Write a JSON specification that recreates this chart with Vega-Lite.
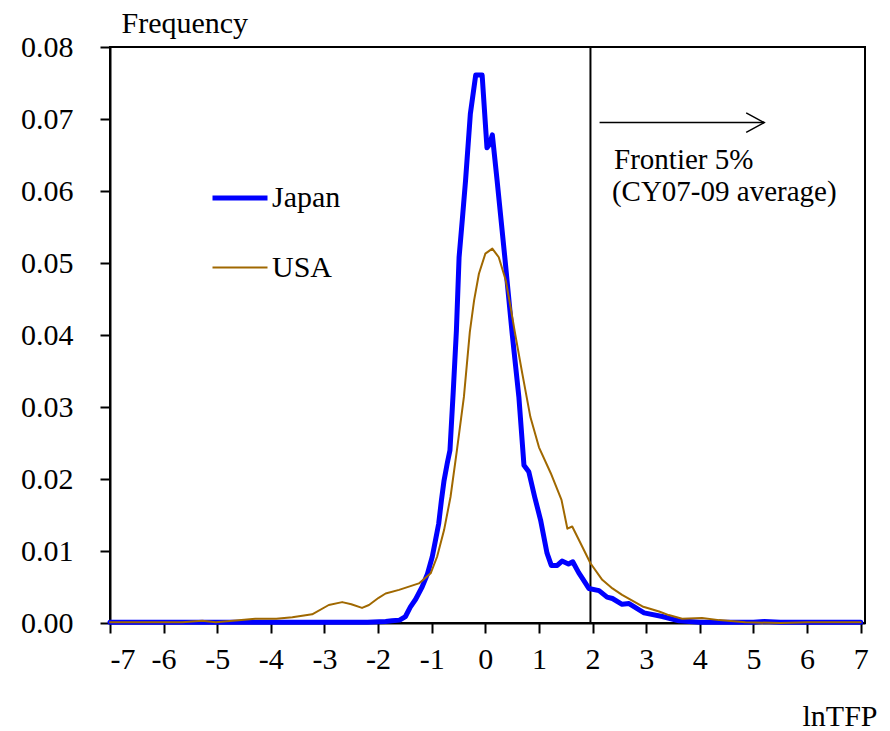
{
  "$schema": "https://vega.github.io/schema/vega-lite/v6.json",
  "width": 755,
  "height": 576,
  "autosize": "none",
  "padding": {"left": 110, "top": 47, "right": 25, "bottom": 108},
  "background": "white",
  "config": {
    "font": "Liberation Serif",
    "view": {"stroke": "black", "strokeWidth": 2},
    "text": {"font": "Liberation Serif"},
    "legend": {"labelFont": "Liberation Serif", "titleFont": "Liberation Serif"},
    "axis": {
      "grid": false,
      "domainColor": "black",
      "domainWidth": 2,
      "tickColor": "black",
      "tickWidth": 2,
      "tickSize": 10,
      "labelFont": "Liberation Serif",
      "labelFontSize": 30,
      "labelColor": "black",
      "titleFont": "Liberation Serif",
      "titleFontSize": 30,
      "titleFontWeight": "normal",
      "titleColor": "black"
    }
  },
  "datasets": {
    "curves": [
      {"series": "Japan", "lnTFP": -7, "freq": 0.0001},
      {"series": "Japan", "lnTFP": -6, "freq": 0.0001},
      {"series": "Japan", "lnTFP": -5, "freq": 0.0001},
      {"series": "Japan", "lnTFP": -4, "freq": 0.0001},
      {"series": "Japan", "lnTFP": -3, "freq": 0.0001},
      {"series": "Japan", "lnTFP": -2.2, "freq": 0.0001},
      {"series": "Japan", "lnTFP": -1.86, "freq": 0.0002},
      {"series": "Japan", "lnTFP": -1.74, "freq": 0.0003},
      {"series": "Japan", "lnTFP": -1.6, "freq": 0.0004},
      {"series": "Japan", "lnTFP": -1.49, "freq": 0.0009},
      {"series": "Japan", "lnTFP": -1.4, "freq": 0.0022},
      {"series": "Japan", "lnTFP": -1.3, "freq": 0.0033},
      {"series": "Japan", "lnTFP": -1.18, "freq": 0.005},
      {"series": "Japan", "lnTFP": -1.08, "freq": 0.0068},
      {"series": "Japan", "lnTFP": -0.99, "freq": 0.0092},
      {"series": "Japan", "lnTFP": -0.93, "freq": 0.0115},
      {"series": "Japan", "lnTFP": -0.87, "freq": 0.0138},
      {"series": "Japan", "lnTFP": -0.82, "freq": 0.017},
      {"series": "Japan", "lnTFP": -0.77, "freq": 0.0198},
      {"series": "Japan", "lnTFP": -0.71, "freq": 0.0222},
      {"series": "Japan", "lnTFP": -0.66, "freq": 0.024},
      {"series": "Japan", "lnTFP": -0.6, "freq": 0.032},
      {"series": "Japan", "lnTFP": -0.54, "freq": 0.0406},
      {"series": "Japan", "lnTFP": -0.49, "freq": 0.0508},
      {"series": "Japan", "lnTFP": -0.43, "freq": 0.056},
      {"series": "Japan", "lnTFP": -0.37, "freq": 0.0614},
      {"series": "Japan", "lnTFP": -0.28, "freq": 0.0707},
      {"series": "Japan", "lnTFP": -0.18, "freq": 0.0761},
      {"series": "Japan", "lnTFP": -0.06, "freq": 0.0761},
      {"series": "Japan", "lnTFP": 0.03, "freq": 0.066},
      {"series": "Japan", "lnTFP": 0.08, "freq": 0.0665},
      {"series": "Japan", "lnTFP": 0.13, "freq": 0.0678},
      {"series": "Japan", "lnTFP": 0.22, "freq": 0.0614},
      {"series": "Japan", "lnTFP": 0.36, "freq": 0.051},
      {"series": "Japan", "lnTFP": 0.5, "freq": 0.0402},
      {"series": "Japan", "lnTFP": 0.625, "freq": 0.0314},
      {"series": "Japan", "lnTFP": 0.72, "freq": 0.0219},
      {"series": "Japan", "lnTFP": 0.81, "freq": 0.021},
      {"series": "Japan", "lnTFP": 0.92, "freq": 0.0175},
      {"series": "Japan", "lnTFP": 1.03, "freq": 0.0143},
      {"series": "Japan", "lnTFP": 1.15, "freq": 0.0097},
      {"series": "Japan", "lnTFP": 1.23, "freq": 0.008},
      {"series": "Japan", "lnTFP": 1.34, "freq": 0.008},
      {"series": "Japan", "lnTFP": 1.43, "freq": 0.0086},
      {"series": "Japan", "lnTFP": 1.55, "freq": 0.0082},
      {"series": "Japan", "lnTFP": 1.63, "freq": 0.0085},
      {"series": "Japan", "lnTFP": 1.74, "freq": 0.007},
      {"series": "Japan", "lnTFP": 1.81, "freq": 0.0062},
      {"series": "Japan", "lnTFP": 1.93, "freq": 0.0048},
      {"series": "Japan", "lnTFP": 2.12, "freq": 0.0045},
      {"series": "Japan", "lnTFP": 2.27, "freq": 0.0036},
      {"series": "Japan", "lnTFP": 2.37, "freq": 0.0034},
      {"series": "Japan", "lnTFP": 2.55, "freq": 0.0026},
      {"series": "Japan", "lnTFP": 2.68, "freq": 0.0027},
      {"series": "Japan", "lnTFP": 2.96, "freq": 0.0014},
      {"series": "Japan", "lnTFP": 3.3, "freq": 0.0009},
      {"series": "Japan", "lnTFP": 3.61, "freq": 0.0003},
      {"series": "Japan", "lnTFP": 4.0, "freq": 0.0001},
      {"series": "Japan", "lnTFP": 4.5, "freq": 0.0001},
      {"series": "Japan", "lnTFP": 5.0, "freq": 0.0001},
      {"series": "Japan", "lnTFP": 5.2, "freq": 0.0002},
      {"series": "Japan", "lnTFP": 5.5, "freq": 0.0001},
      {"series": "Japan", "lnTFP": 6.0, "freq": 0.0001},
      {"series": "Japan", "lnTFP": 7.0, "freq": 0.0001},
      {"series": "USA", "lnTFP": -7, "freq": 0.0001},
      {"series": "USA", "lnTFP": -6.5, "freq": 0.0001},
      {"series": "USA", "lnTFP": -6, "freq": 0.0001},
      {"series": "USA", "lnTFP": -5.65, "freq": 0.0001},
      {"series": "USA", "lnTFP": -5.28, "freq": 0.0003},
      {"series": "USA", "lnTFP": -5.03, "freq": 0.0001},
      {"series": "USA", "lnTFP": -4.55, "freq": 0.0004},
      {"series": "USA", "lnTFP": -4.29, "freq": 0.0006},
      {"series": "USA", "lnTFP": -3.9, "freq": 0.0006},
      {"series": "USA", "lnTFP": -3.6, "freq": 0.0008},
      {"series": "USA", "lnTFP": -3.23, "freq": 0.0012},
      {"series": "USA", "lnTFP": -2.92, "freq": 0.0025},
      {"series": "USA", "lnTFP": -2.67, "freq": 0.0029},
      {"series": "USA", "lnTFP": -2.5, "freq": 0.0026},
      {"series": "USA", "lnTFP": -2.3, "freq": 0.0021},
      {"series": "USA", "lnTFP": -2.17, "freq": 0.0025},
      {"series": "USA", "lnTFP": -1.99, "freq": 0.0035},
      {"series": "USA", "lnTFP": -1.86, "freq": 0.0041},
      {"series": "USA", "lnTFP": -1.61, "freq": 0.0046},
      {"series": "USA", "lnTFP": -1.24, "freq": 0.0055},
      {"series": "USA", "lnTFP": -1.02, "freq": 0.0069},
      {"series": "USA", "lnTFP": -0.9, "freq": 0.0092},
      {"series": "USA", "lnTFP": -0.77, "freq": 0.0129},
      {"series": "USA", "lnTFP": -0.65, "freq": 0.0175},
      {"series": "USA", "lnTFP": -0.53, "freq": 0.024},
      {"series": "USA", "lnTFP": -0.4, "freq": 0.0314},
      {"series": "USA", "lnTFP": -0.29, "freq": 0.0404},
      {"series": "USA", "lnTFP": -0.21, "freq": 0.0448},
      {"series": "USA", "lnTFP": -0.12, "freq": 0.0485},
      {"series": "USA", "lnTFP": 0.0, "freq": 0.0513},
      {"series": "USA", "lnTFP": 0.13, "freq": 0.052},
      {"series": "USA", "lnTFP": 0.25, "freq": 0.0508},
      {"series": "USA", "lnTFP": 0.38, "freq": 0.0476},
      {"series": "USA", "lnTFP": 0.47, "freq": 0.0439},
      {"series": "USA", "lnTFP": 0.55, "freq": 0.0404},
      {"series": "USA", "lnTFP": 0.69, "freq": 0.0346},
      {"series": "USA", "lnTFP": 0.84, "freq": 0.0286},
      {"series": "USA", "lnTFP": 1.0, "freq": 0.0244},
      {"series": "USA", "lnTFP": 1.22, "freq": 0.0208},
      {"series": "USA", "lnTFP": 1.42, "freq": 0.0171},
      {"series": "USA", "lnTFP": 1.53, "freq": 0.0131},
      {"series": "USA", "lnTFP": 1.62, "freq": 0.0134},
      {"series": "USA", "lnTFP": 1.78, "freq": 0.011},
      {"series": "USA", "lnTFP": 1.96, "freq": 0.0083},
      {"series": "USA", "lnTFP": 2.18, "freq": 0.006},
      {"series": "USA", "lnTFP": 2.37, "freq": 0.0048},
      {"series": "USA", "lnTFP": 2.55, "freq": 0.0039},
      {"series": "USA", "lnTFP": 2.93, "freq": 0.0023},
      {"series": "USA", "lnTFP": 3.24, "freq": 0.0016},
      {"series": "USA", "lnTFP": 3.42, "freq": 0.0011},
      {"series": "USA", "lnTFP": 3.67, "freq": 0.0006},
      {"series": "USA", "lnTFP": 4.04, "freq": 0.0007},
      {"series": "USA", "lnTFP": 4.36, "freq": 0.0004},
      {"series": "USA", "lnTFP": 4.85, "freq": 0.0001},
      {"series": "USA", "lnTFP": 5.5, "freq": 0.0},
      {"series": "USA", "lnTFP": 6.0, "freq": 0.0001},
      {"series": "USA", "lnTFP": 7.0, "freq": 0.0001}
    ],
    "frontier": [{"x": 1.96}],
    "arrow": [{"x": 2.13, "x2": 5.2, "y": 0.0695}],
    "notes": [
      {"x": 2.4, "y": 0.0643, "text": "Frontier 5%"},
      {"x": 2.36, "y": 0.0598, "text": "(CY07-09 average)"}
    ]
  },
  "layer": [
    {
      "data": {"name": "frontier"},
      "mark": {"type": "rule", "color": "black", "strokeWidth": 2},
      "encoding": {
        "x": {"field": "x", "type": "quantitative", "scale": {"domain": [-7, 7.08], "nice": false, "zero": false}}
      }
    },
    {
      "data": {"name": "curves"},
      "mark": {"type": "line", "strokeJoin": "round", "strokeCap": "round"},
      "encoding": {
        "x": {
          "field": "lnTFP", "type": "quantitative",
          "scale": {"domain": [-7, 7.08], "nice": false, "zero": false},
          "axis": {
            "values": [-7, -6, -5, -4, -3, -2, -1, 0, 1, 2, 3, 4, 5, 6, 7],
            "labelExpr": "'' + datum.value",
            "labelPadding": 11,
            "title": "lnTFP",
            "titleAlign": "right",
            "titleBaseline": "alphabetic",
            "titleX": 767,
            "titleY": 102
          }
        },
        "y": {
          "field": "freq", "type": "quantitative",
          "scale": {"domain": [0, 0.08], "nice": false},
          "axis": {
            "values": [0, 0.01, 0.02, 0.03, 0.04, 0.05, 0.06, 0.07, 0.08],
            "format": ".2f",
            "labelPadding": 27,
            "title": "Frequency",
            "titleAngle": 0,
            "titleAlign": "left",
            "titleBaseline": "alphabetic",
            "titleX": 11,
            "titleY": -15
          }
        },
        "color": {
          "field": "series", "type": "nominal",
          "scale": {"domain": ["Japan", "USA"], "range": ["#0000FF", "#A06800"]},
          "legend": {
            "title": null,
            "orient": "none",
            "legendX": 100,
            "legendY": 121,
            "padding": 0,
            "symbolType": "stroke",
            "symbolSize": 3025,
            "rowPadding": 26,
            "labelFont": "Liberation Serif",
            "labelFontSize": 30,
            "labelColor": "black",
            "labelOffset": 2
          }
        },
        "strokeWidth": {
          "field": "series", "type": "nominal",
          "scale": {"domain": ["Japan", "USA"], "range": [5, 2]},
          "legend": {
            "title": null,
            "orient": "none",
            "legendX": 100,
            "legendY": 121,
            "padding": 0,
            "symbolType": "stroke",
            "symbolSize": 3025,
            "rowPadding": 26,
            "labelFont": "Liberation Serif",
            "labelFontSize": 30,
            "labelColor": "black",
            "labelOffset": 2
          }
        }
      }
    },
    {
      "data": {"name": "arrow"},
      "mark": {"type": "rule", "color": "black", "strokeWidth": 1.5},
      "encoding": {
        "x": {"field": "x", "type": "quantitative"},
        "x2": {"field": "x2"},
        "y": {"field": "y", "type": "quantitative"}
      }
    },
    {
      "data": {"name": "arrow"},
      "mark": {"type": "point", "shape": "M-1,-0.54L0,0L-1,0.54", "filled": false, "stroke": "black", "strokeWidth": 1.5, "size": 1296, "opacity": 1},
      "encoding": {
        "x": {"field": "x2", "type": "quantitative"},
        "y": {"field": "y", "type": "quantitative"}
      }
    },
    {
      "data": {"name": "notes"},
      "mark": {"type": "text", "align": "left", "baseline": "middle", "font": "Liberation Serif", "fontSize": 29, "color": "black"},
      "encoding": {
        "x": {"field": "x", "type": "quantitative"},
        "y": {"field": "y", "type": "quantitative"},
        "text": {"field": "text"}
      }
    }
  ]
}
